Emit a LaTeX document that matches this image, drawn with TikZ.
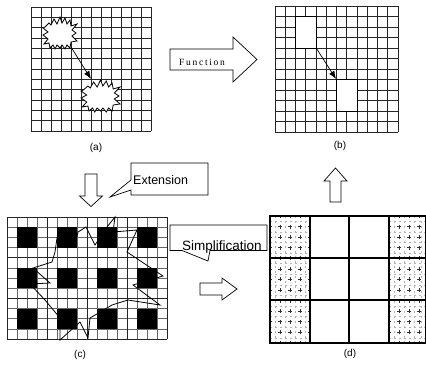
\documentclass[tikz,border=0pt]{standalone}
\usepackage{fontspec}
\setmainfont{Liberation Sans}
\newfontfamily\timesf[LetterSpace=18]{Liberation Serif}
\usetikzlibrary{arrows.meta}
\begin{document}
\begin{tikzpicture}[x=1pt,y=-1pt,
  gridline/.style={line width=0.9pt,black!85},
  cgrid/.style={line width=0.5pt,black!60},
  cthick/.style={line width=0.8pt,black!85},
  thickline/.style={line width=1.3pt,black},
  crossline/.style={line width=0.7pt,black!80},
  faintline/.style={line width=0.4pt,black!30,dash pattern=on 2pt off 3pt},
  blockarrow/.style={draw=black,line width=0.7pt,fill=white,line join=miter},
  callout/.style={draw=black,line width=0.7pt,fill=white,line join=miter},
  lbl/.style={font=\fontsize{10}{12}\selectfont,inner sep=0pt},
  conn/.style={line width=0.7pt,-{Latex[length=8pt,width=6pt]}},
  starline/.style={line width=0.8pt,black,fill=white,line join=miter},
  cellbox/.style={draw=black,line width=0.9pt,fill=white,inner sep=0pt},
]
\useasboundingbox (0,0) rectangle (426,369);

% ---------- (a) ----------
\foreach \i in {0,...,12} {
  \draw[gridline] ({31+10*\i},7) -- ({31+10*\i},131);
  \draw[gridline] (31,{7+124/12*\i}) -- (151,{7+124/12*\i});
}
\foreach \sx/\sy/\sc in {43/17/1, 81/80/1.15} {
  \draw[starline, shift={(\sx,\sy)}, xscale=\sc]
    (2,10) -- (6,6) -- (8,8) -- (11,2) -- (14,7) -- (17,0) -- (19,6) -- (22,1) --
    (24,7) -- (27,3) -- (28,9) -- (34,7) -- (29,13) -- (33,16) -- (29,19) -- (34,24) --
    (28,25) -- (27,31) -- (24,28) -- (22,32) -- (19,28) -- (17,31) -- (14,28) -- (12,32) --
    (10,28) -- (7,31) -- (6,26) -- (1,27) -- (5,22) -- (0,18) -- (5,15) -- (0,11) -- cycle;
}
\coordinate (a1) at (71,47);
\coordinate (a2) at (91,79);
\draw[conn] (a1) -- (a2);
\node[lbl] (la) at (96,148) {(a)};

% ---------- Function arrow ----------
\draw[blockarrow] (170,49) -- (233,49) -- (233,37) -- (257,59.5) -- (233,82) -- (233,70) -- (170,70) -- cycle;
\node[inner sep=0pt,anchor=base west,font=\timesf\fontsize{9.5}{11}\selectfont] (fn) at (179,65.5) {Function};

% ---------- (b) ----------
\foreach \i in {0,...,12} {
  \draw[gridline] ({275+10.25*\i},6) -- ({275+10.25*\i},132);
  \draw[gridline] (275,{6+10.5*\i}) -- (398,{6+10.5*\i});
}
\node[cellbox,minimum width=20.5pt,minimum height=31.5pt] (r1) at (305.75,32.25) {};
\node[cellbox,minimum width=20.5pt,minimum height=31.5pt] (r2) at (346.75,95.25) {};
\draw[conn] (r1.south east) -- (r2.north west);
\node[lbl] (lb) at (340,146) {(b)};

% ---------- down arrow + Extension ----------
\draw[blockarrow] (85,174) -- (97,174) -- (97,196) -- (102.5,196) -- (91,206.5) -- (79.5,196) -- (85,196) -- cycle;
\draw[callout] (131,163) -- (208,163) -- (208,195) -- (131,195) -- (131,190) -- (110,197) -- (131,180) -- cycle;
\node[inner sep=0pt,anchor=base west,font=\fontsize{12.5}{14}\selectfont] (ext) at (133,184) {Extension};

% ---------- (c) ----------
\foreach \i in {0,...,16} {
  \draw[cgrid] ({7+10*\i},217) -- ({7+10*\i},339);
}
\foreach \j in {0,...,12} {
  \draw[cgrid] (7,{217+122/12*\j}) -- (167,{217+122/12*\j});
}
\foreach \i in {0,...,4} {
  \draw[cthick] ({7+40*\i},217) -- ({7+40*\i},339);
}
\foreach \j in {0,...,3} {
  \draw[cthick] (7,{217+122/3*\j}) -- (167,{217+122/3*\j});
}
\foreach \i in {0,...,3} {
  \foreach \j in {0,...,2} {
    \fill[black] ({17+40*\i},{227.2+40.67*\j}) rectangle ({37+40*\i},{247.5+40.67*\j});
  }
}
\draw[line width=0.8pt,black,line join=miter]
  (115,217) -- (113,232) -- (137,230) -- (127,252) -- (163,276) -- (133,285) --
  (160,305) -- (128,300) -- (112,305) -- (90,318) -- (88,338) -- (80,322) --
  (60,340) -- (60,318) -- (45,300) -- (30,284) -- (50,283) -- (33,268) --
  (52,262) -- (55,252) -- (57,238) -- (75,245) -- (78,232) -- (86,227) --
  (95,245) -- (107,227) -- cycle;
\node[lbl] (lc) at (80,355) {(c)};

% ---------- Simplification ----------
\draw[callout] (170,225) -- (267,225) -- (267,250.5) -- (210,250.5) -- (208,261) -- (182,250.5) -- (170,250.5) -- cycle;
\node[inner sep=0pt,anchor=base west,font=\fontsize{13.5}{15}\selectfont] (simp) at (182,250) {Simplification};
\draw[blockarrow] (200,283) -- (222,283) -- (222,278) -- (237,289) -- (222,300) -- (222,295) -- (200,295) -- cycle;

% ---------- up arrow ----------
\draw[blockarrow] (330,202) -- (341,202) -- (341,181) -- (347,181) -- (335.5,168) -- (324,181) -- (330,181) -- cycle;

% ---------- (d) ----------
\foreach \x in {275,285,295,305,394,404,414,421} {
  \draw[faintline] (\x,216) -- (\x,343);
}
\foreach \j in {0,...,11} {
  \draw[faintline] (270,{221.3+127/12*\j}) -- (310,{221.3+127/12*\j});
  \draw[faintline] (389,{221.3+127/12*\j}) -- (425.5,{221.3+127/12*\j});
}
\foreach \x in {280,290,300,399,409,419} {
  \draw[crossline,dash pattern=on 4pt off 6.58pt,dash phase=2pt] (\x,216) -- (\x,343);
}
\foreach \j in {1,2,3,5,6,7,9,10,11} {
  \draw[crossline,dash pattern=on 4pt off 6pt,dash phase=2pt] (270,{216+127/12*\j}) -- (310,{216+127/12*\j});
  \draw[crossline,dash pattern=on 4pt off 6pt,dash phase=2pt] (389,{216+127/12*\j}) -- (425.5,{216+127/12*\j});
}
\foreach \x in {310,349,389} {
  \draw[thickline] (\x,216) -- (\x,343);
}
\foreach \y in {258,300} {
  \draw[thickline] (270,\y) -- (425.5,\y);
}
\draw[thickline] (270,216) rectangle (425.3,343);
\node[lbl] (ld) at (350,354) {(d)};
\end{tikzpicture}
\end{document}
